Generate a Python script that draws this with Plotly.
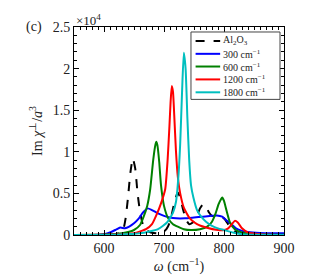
import plotly.graph_objects as go

# values in units of 1e4
al_x = [550, 600, 620, 628, 632, 636, 640, 644, 648, 652, 656, 660, 665, 670, 678, 688, 698, 704, 709, 713, 717, 720, 723, 727, 732, 737, 742, 748, 755, 760, 765, 770, 775, 780, 790, 800, 808, 815, 825, 840, 900]
al_y = [0, 0.0, 0.01, 0.03, 0.06, 0.2, 0.45, 0.75, 0.92, 0.8, 0.5, 0.28, 0.12, 0.06, 0.03, 0.02, 0.03, 0.07, 0.14, 0.25, 0.38, 0.46, 0.51, 0.45, 0.3, 0.18, 0.13, 0.15, 0.23, 0.32, 0.37, 0.34, 0.27, 0.23, 0.22, 0.2, 0.12, 0.06, 0.02, 0.005, 0]

b_x = [550, 590, 600, 610, 620, 627, 635, 642, 650, 657, 665, 673, 680, 690, 700, 710, 720, 735, 750, 765, 780, 788, 797, 805, 812, 820, 830, 840, 860, 900]
b_y = [0, 0.003, 0.01, 0.03, 0.065, 0.09, 0.08, 0.1, 0.14, 0.19, 0.27, 0.32, 0.3, 0.26, 0.23, 0.21, 0.2, 0.2, 0.21, 0.22, 0.23, 0.235, 0.22, 0.17, 0.13, 0.08, 0.05, 0.035, 0.025, 0.02]

g_x = [550, 600, 630, 650, 660, 665, 672, 677, 682, 685, 687, 689, 692, 695, 700, 707, 715, 723, 733, 745, 760, 772, 780, 786, 791, 795, 797, 800, 804, 810, 818, 830, 850, 900]
g_y = [0, 0.005, 0.02, 0.06, 0.12, 0.2, 0.35, 0.55, 0.9, 1.06, 1.12, 1.08, 0.88, 0.6, 0.35, 0.2, 0.13, 0.1, 0.07, 0.06, 0.07, 0.1, 0.16, 0.26, 0.37, 0.43, 0.45, 0.41, 0.3, 0.15, 0.07, 0.03, 0.01, 0.003]

r_x = [550, 620, 650, 670, 680, 688, 695, 702, 706, 709, 711, 713, 715, 717, 720, 723, 727, 733, 743, 755, 770, 790, 800, 807, 812, 818, 823, 830, 840, 860, 900]
r_y = [0, 0.005, 0.02, 0.07, 0.13, 0.25, 0.38, 0.55, 0.9, 1.3, 1.6, 1.79, 1.72, 1.45, 1.0, 0.7, 0.5, 0.33, 0.2, 0.13, 0.09, 0.06, 0.06, 0.08, 0.12, 0.17, 0.15, 0.08, 0.03, 0.01, 0]

c_x = [550, 620, 660, 690, 705, 715, 720, 724, 727, 730, 733, 736, 739, 742, 745, 749, 755, 762, 770, 780, 790, 800, 815, 830, 850, 900]
c_y = [0, 0.003, 0.02, 0.07, 0.15, 0.27, 0.4, 0.7, 1.1, 1.7, 2.19, 2.0, 1.4, 0.9, 0.6, 0.45, 0.3, 0.22, 0.16, 0.11, 0.08, 0.06, 0.03, 0.01, 0.004, 0]

names = ["Al<sub>2</sub>O<sub>3</sub>", "300 cm<sup>−1</sup>", "600 cm<sup>−1</sup>",
         "1200 cm<sup>−1</sup>", "1800 cm<sup>−1</sup>"]
xs_all = [al_x, b_x, g_x, r_x, c_x]
ys_all = [al_y, b_y, g_y, r_y, c_y]
colors = ["black", "#0000ff", "#008000", "#ff0000", "#00bfbf"]
dashes = ["dash", "solid", "solid", "solid", "solid"]

x_ticks = [600, 700, 800, 900]
y_ticks = [0, 0.5, 1, 1.5, 2, 2.5]
y_ticklabels = ["0", "0.5", "1", "1.5", "2", "2.5"]

FONT = "Liberation Serif"
TXT = "#222"

fig = go.Figure()
for name, xs, ys, col, dash in zip(names, xs_all, ys_all, colors, dashes):
    fig.add_trace(go.Scatter(x=xs, y=ys, mode="lines", name=name, showlegend=False,
                             line=dict(color=col, width=2, dash=dash, shape="spline", smoothing=0.5)))

axis_common = dict(showline=True, linecolor="black", linewidth=1, mirror="ticks",
                   ticks="inside", ticklen=5, tickcolor="black", showgrid=False, zeroline=False,
                   tickfont=dict(family=FONT, size=14, color=TXT))
fig.update_xaxes(range=[550, 900], tickvals=x_ticks,
                 minor=dict(dtick=10, ticks="inside", ticklen=3, tickcolor="black"),
                 title=dict(text="<i>ω</i> (cm<sup>−1</sup>)", font=dict(family=FONT, size=14, color=TXT), standoff=4),
                 **axis_common)
fig.update_yaxes(range=[0, 2.5], tickvals=y_ticks, ticktext=y_ticklabels,
                 minor=dict(dtick=0.1, ticks="inside", ticklen=3, tickcolor="black"),
                 title=dict(text="Im <i>χ</i><sup>⊥</sup>/<i>a</i><sup>3</sup>", font=dict(family=FONT, size=14, color=TXT), standoff=6),
                 **axis_common)

fig.add_annotation(x=0, y=1, xref="paper", yref="paper", text="×10<sup>4</sup>",
                   showarrow=False, xanchor="left", yanchor="bottom", yshift=-3,
                   font=dict(family=FONT, size=13, color=TXT))
fig.add_annotation(x=-0.145, y=1, xref="paper", yref="paper", text="(c)",
                   showarrow=False, xanchor="right", yanchor="middle",
                   font=dict(family=FONT, size=14, color=TXT))

# manual legend box (paper coordinates)
lx0, lx1, ly0, ly1 = 0.557, 0.981, 0.652, 0.976
fig.add_shape(type="rect", xref="paper", yref="paper", x0=lx0, x1=lx1, y0=ly0, y1=ly1,
              line=dict(color="#444", width=1), fillcolor="white", layer="above")
row_y = [0.933, 0.871, 0.810, 0.748, 0.686]
for name, col, dash, yy in zip(names, colors, dashes, row_y):
    fig.add_shape(type="line", xref="paper", yref="paper", x0=0.579, x1=0.696, y0=yy, y1=yy,
                  line=dict(color=col, width=2, dash=dash), layer="above")
    fig.add_annotation(x=0.703, y=yy, xref="paper", yref="paper", text=name, showarrow=False,
                       xanchor="left", yanchor="middle", borderpad=0,
                       font=dict(family=FONT, size=10, color=TXT))

fig.update_layout(
    width=320, height=277,
    margin=dict(l=66, r=44, t=17, b=50),
    plot_bgcolor="white", paper_bgcolor="white",
    showlegend=False,
)

fig.write_html("out.html")
